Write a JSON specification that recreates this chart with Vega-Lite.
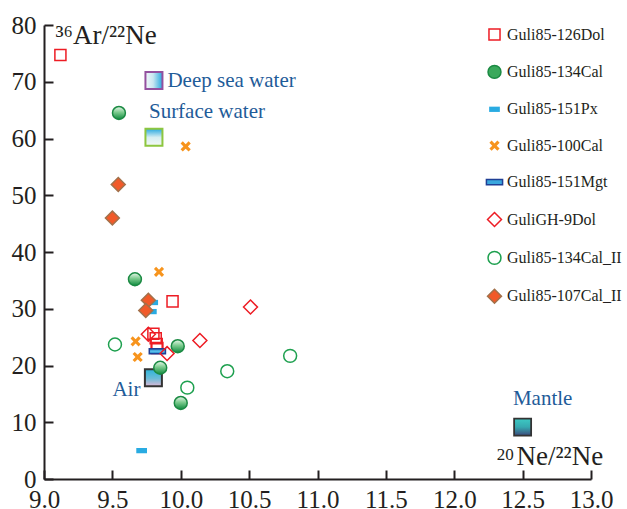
{
  "$schema": "https://vega.github.io/schema/vega-lite/v6.json",
  "width": 547,
  "height": 454,
  "autosize": {"type": "none"},
  "padding": {"left": 44, "top": 25, "right": 36, "bottom": 30},
  "background": "white",
  "config": {
    "view": {"stroke": null},
    "axis": {
      "grid": false,
      "domainColor": "#231f20",
      "domainWidth": 2,
      "tickColor": "#231f20",
      "tickWidth": 2,
      "tickSize": -9,
      "labelPadding": 17,
      "labelFont": "Liberation Serif",
      "labelFontSize": 25,
      "labelColor": "#231f20",
      "labelFlush": false,
      "labelOverlap": false,
      "titleFont": "Liberation Serif",
      "titleFontSize": 27,
      "titleFontWeight": "normal",
      "titleColor": "#231f20",
      "titleAngle": 0,
      "titleAlign": "left",
      "titleBaseline": "alphabetic"
    },
    "legend": {
      "orient": "none",
      "legendX": 441,
      "legendY": 0,
      "padding": 0,
      "labelFont": "Liberation Serif",
      "labelFontSize": 16,
      "labelColor": "#231f20",
      "labelOffset": 3,
      "rowPadding": 18.4,
      "symbolSize": 289,
      "symbolStrokeWidth": 1.5,
      "symbolOpacity": 1
    }
  },
  "datasets": {
    "samples": [
      {"sample": "Guli85-126Dol", "ne": 9.12, "ar": 74.7},
      {"sample": "Guli85-126Dol", "ne": 9.94, "ar": 31.3},
      {"sample": "Guli85-126Dol", "ne": 9.8, "ar": 25.6},
      {"sample": "Guli85-126Dol", "ne": 9.817, "ar": 24.8},
      {"sample": "Guli85-126Dol", "ne": 9.824, "ar": 23.8},
      {"sample": "Guli85-126Dol", "ne": 9.829, "ar": 23.1},
      {"sample": "Guli85-134Cal", "ne": 9.548, "ar": 64.5},
      {"sample": "Guli85-134Cal", "ne": 9.665, "ar": 35.2},
      {"sample": "Guli85-134Cal", "ne": 9.978, "ar": 23.4},
      {"sample": "Guli85-134Cal", "ne": 9.85, "ar": 19.6},
      {"sample": "Guli85-134Cal", "ne": 10.0, "ar": 13.4},
      {"sample": "Guli85-151Px", "ne": 9.714, "ar": 5.0},
      {"sample": "Guli85-151Px", "ne": 9.795, "ar": 31.1},
      {"sample": "Guli85-151Px", "ne": 9.785, "ar": 29.5},
      {"sample": "Guli85-100Cal", "ne": 10.036, "ar": 58.6},
      {"sample": "Guli85-100Cal", "ne": 9.841, "ar": 36.5},
      {"sample": "Guli85-100Cal", "ne": 9.67, "ar": 24.25},
      {"sample": "Guli85-100Cal", "ne": 9.685, "ar": 21.5},
      {"sample": "Guli85-151Mgt", "ne": 9.829, "ar": 22.5},
      {"sample": "GuliGH-9Dol", "ne": 10.51, "ar": 30.3},
      {"sample": "GuliGH-9Dol", "ne": 10.14, "ar": 24.4},
      {"sample": "GuliGH-9Dol", "ne": 9.763, "ar": 25.5},
      {"sample": "GuliGH-9Dol", "ne": 9.9, "ar": 22.1},
      {"sample": "Guli85-134Cal_II", "ne": 9.519, "ar": 23.7},
      {"sample": "Guli85-134Cal_II", "ne": 10.048, "ar": 16.1},
      {"sample": "Guli85-134Cal_II", "ne": 10.34, "ar": 19.0},
      {"sample": "Guli85-134Cal_II", "ne": 10.8, "ar": 21.7},
      {"sample": "Guli85-107Cal_II", "ne": 9.543, "ar": 51.9},
      {"sample": "Guli85-107Cal_II", "ne": 9.5, "ar": 46.0},
      {"sample": "Guli85-107Cal_II", "ne": 9.763, "ar": 31.5},
      {"sample": "Guli85-107Cal_II", "ne": 9.744, "ar": 29.7}
    ],
    "refs": [
      {"name": "Deep sea water", "ne": 9.804, "ar": 70.2},
      {"name": "Surface water", "ne": 9.804, "ar": 60.2},
      {"name": "Air", "ne": 9.8, "ar": 17.85},
      {"name": "Mantle", "ne": 12.5, "ar": 9.15}
    ]
  },
  "layer": [
    {
      "encoding": {
        "x": {
          "field": "ne",
          "type": "quantitative",
          "scale": {"domain": [9, 13], "nice": false, "zero": false},
          "axis": {
            "values": [9, 9.5, 10, 10.5, 11, 11.5, 12, 12.5, 13],
            "format": ".1f",
            "title": "Ne/²²Ne",
            "titleX": 472,
            "titleY": -15
          }
        },
        "y": {
          "field": "ar",
          "type": "quantitative",
          "scale": {"domain": [0, 80], "nice": false, "zero": true},
          "axis": {
            "values": [0, 10, 20, 30, 40, 50, 60, 70, 80],
            "format": "d",
            "title": "³⁶Ar/²²Ne",
            "titleX": 11,
            "titleY": 18
          }
        }
      },
      "layer": [
        {
          "data": {"name": "refs"},
          "transform": [{"filter": "datum.name === 'Deep sea water'"}],
          "mark": {
            "type": "point", "shape": "square", "size": 289, "filled": true, "opacity": 1,
            "fill": {"gradient": "linear", "x1": 0, "y1": 0, "x2": 1, "y2": 0,
                     "stops": [{"offset": 0, "color": "#f2f8f9"}, {"offset": 0.45, "color": "#c9e7f1"}, {"offset": 1, "color": "#27a8e0"}]},
            "stroke": "#93519f", "strokeWidth": 2
          }
        },
        {
          "data": {"name": "refs"},
          "transform": [{"filter": "datum.name === 'Surface water'"}],
          "mark": {
            "type": "point", "shape": "square", "size": 289, "filled": true, "opacity": 1,
            "fill": {"gradient": "linear", "x1": 0, "y1": 0, "x2": 0, "y2": 1,
                     "stops": [{"offset": 0, "color": "#27a8e0"}, {"offset": 0.5, "color": "#d6eef2"}, {"offset": 1, "color": "#f4f9f4"}]},
            "stroke": "#8dc63f", "strokeWidth": 2
          }
        },
        {
          "data": {"name": "refs"},
          "transform": [{"filter": "datum.name === 'Air'"}],
          "mark": {
            "type": "point", "shape": "square", "size": 289, "filled": true, "opacity": 1,
            "fill": {"gradient": "linear", "x1": 0, "y1": 0, "x2": 0, "y2": 1,
                     "stops": [{"offset": 0, "color": "#2bb4da"}, {"offset": 0.55, "color": "#6cbcd8"}, {"offset": 1, "color": "#dcb8d6"}]},
            "stroke": "#333333", "strokeWidth": 2
          }
        },
        {
          "data": {"name": "refs"},
          "transform": [{"filter": "datum.name === 'Mantle'"}],
          "mark": {
            "type": "point", "shape": "square", "size": 289, "filled": true, "opacity": 1,
            "fill": {"gradient": "linear", "x1": 0, "y1": 0, "x2": 0, "y2": 1,
                     "stops": [{"offset": 0, "color": "#3dcac4"}, {"offset": 0.5, "color": "#36a9b0"}, {"offset": 1, "color": "#3b4a7c"}]},
            "stroke": "#333333", "strokeWidth": 1.8
          }
        },
        {
          "data": {"name": "refs"},
          "transform": [{"filter": "datum.name === 'Deep sea water'"}],
          "mark": {"type": "text", "align": "left", "baseline": "alphabetic", "dx": 13.5, "dy": 6.6,
                   "font": "Liberation Serif", "fontSize": 21, "fill": "#1f5c99"},
          "encoding": {"text": {"field": "name"}}
        },
        {
          "data": {"name": "refs"},
          "transform": [{"filter": "datum.name === 'Surface water'"}],
          "mark": {"type": "text", "align": "left", "baseline": "alphabetic", "dx": -5, "dy": -19,
                   "font": "Liberation Serif", "fontSize": 21, "fill": "#1f5c99"},
          "encoding": {"text": {"field": "name"}}
        },
        {
          "data": {"name": "refs"},
          "transform": [{"filter": "datum.name === 'Air'"}],
          "mark": {"type": "text", "align": "right", "baseline": "alphabetic", "dx": -13, "dy": 18,
                   "font": "Liberation Serif", "fontSize": 21, "fill": "#1f5c99"},
          "encoding": {"text": {"field": "name"}}
        },
        {
          "data": {"name": "refs"},
          "transform": [{"filter": "datum.name === 'Mantle'"}],
          "mark": {"type": "text", "align": "center", "baseline": "alphabetic", "dx": 20, "dy": -21.7,
                   "font": "Liberation Serif", "fontSize": 21, "fill": "#1f5c99"},
          "encoding": {"text": {"field": "name"}}
        },
        {
          "data": {"name": "samples"},
          "mark": {"type": "point", "size": 289, "opacity": 1, "strokeWidth": 1.5},
          "encoding": {
            "shape": {
              "field": "sample", "type": "nominal",
              "scale": {
                "domain": ["Guli85-126Dol", "Guli85-134Cal", "Guli85-151Px", "Guli85-100Cal", "Guli85-151Mgt", "GuliGH-9Dol", "Guli85-134Cal_II", "Guli85-107Cal_II"],
                "range": [
                  "M-0.65,-0.65H0.65V0.65H-0.65Z",
                  "M0.76,0A0.76,0.76,0,1,1,-0.76,0A0.76,0.76,0,1,1,0.76,0Z",
                  "M-0.63,-0.31H0.63V0.31H-0.63Z",
                  "M0,-0.26L0.34,-0.6L0.6,-0.34L0.26,0L0.6,0.34L0.34,0.6L0,0.26L-0.34,0.6L-0.6,0.34L-0.26,0L-0.6,-0.34L-0.34,-0.6Z",
                  "M-0.95,-0.3H0.95V0.3H-0.95Z",
                  "M0,-0.82L0.82,0L0,0.82L-0.82,0Z",
                  "M0.76,0A0.76,0.76,0,1,1,-0.76,0A0.76,0.76,0,1,1,0.76,0Z",
                  "M0,-0.82L0.82,0L0,0.82L-0.82,0Z"
                ]
              },
              "legend": {"title": null}
            },
            "fill": {
              "condition": [
                {"test": "datum.sample === 'Guli85-134Cal'",
                 "value": {"gradient": "linear", "x1": 0, "y1": 0, "x2": 0, "y2": 1,
                           "stops": [{"offset": 0, "color": "#eaf7ec"}, {"offset": 0.45, "color": "#7ccb8e"}, {"offset": 1, "color": "#0e8a3e"}]}},
                {"test": "datum.sample === 'Guli85-151Mgt'",
                 "value": {"gradient": "linear", "x1": 0, "y1": 0, "x2": 0, "y2": 1,
                           "stops": [{"offset": 0, "color": "#1c75bc"}, {"offset": 0.5, "color": "#5bc4ef"}, {"offset": 1, "color": "#1c75bc"}]}}
              ],
              "field": "sample", "type": "nominal",
              "scale": {
                "domain": ["Guli85-126Dol", "Guli85-134Cal", "Guli85-151Px", "Guli85-100Cal", "Guli85-151Mgt", "GuliGH-9Dol", "Guli85-134Cal_II", "Guli85-107Cal_II"],
                "range": ["transparent", "#3aa95c", "#29abe2", "#f7941d", "#3aa7de", "transparent", "transparent", "#f15a29"]
              },
              "legend": {"title": null}
            },
            "stroke": {
              "field": "sample", "type": "nominal",
              "scale": {
                "domain": ["Guli85-126Dol", "Guli85-134Cal", "Guli85-151Px", "Guli85-100Cal", "Guli85-151Mgt", "GuliGH-9Dol", "Guli85-134Cal_II", "Guli85-107Cal_II"],
                "range": ["#ed1c24", "#1b8a43", "transparent", "transparent", "#1f3f95", "#ed1c24", "#1ea04f", "#a2714b"]
              },
              "legend": {"title": null}
            }
          }
        }
      ]
    },
    {
      "data": {"values": [{"label": "20"}]},
      "mark": {"type": "text", "align": "left", "baseline": "alphabetic", "dy": -19.5,
               "font": "Liberation Serif", "fontSize": 17, "fill": "#231f20"},
      "encoding": {
        "x": {"datum": 12.31, "type": "quantitative"},
        "y": {"datum": 0, "type": "quantitative"},
        "text": {"field": "label"}
      }
    }
  ]
}
